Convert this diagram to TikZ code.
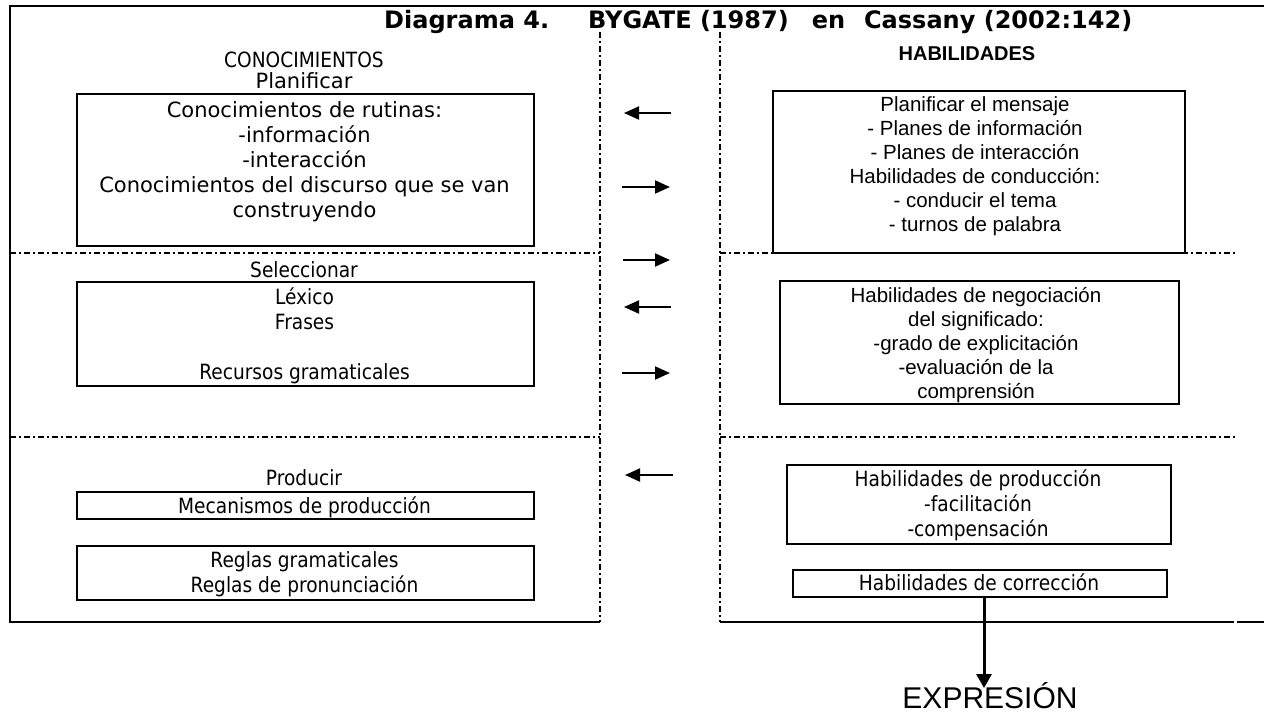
\documentclass[tikz,border=0pt]{standalone}
\usepackage{fontspec}
\usetikzlibrary{arrows.meta}
\newfontfamily\tahfont[FakeStretch=0.885]{DejaVu Sans}
\newfontfamily\verfont{DejaVu Sans}
\newfontfamily\arifont{Liberation Sans}
\newfontfamily\headfont{DejaVu Sans}
\begin{document}
\begin{tikzpicture}[x=1pt,y=-1pt,
  ltxt/.style={font=\tahfont\fontsize{21}{25}\selectfont, align=center, inner sep=0pt},
  wtxt/.style={font=\verfont\fontsize{21}{25}\selectfont, align=center, inner sep=0pt},
  rtxt/.style={font=\arifont\fontsize{20.5}{24}\selectfont, align=center, inner sep=0pt},
  box/.style={draw, line width=2.4pt, inner sep=0pt},
  frame/.style={line width=2.4pt},
  dashdot/.style={line width=1.8pt, dash pattern=on 6pt off 3pt on 2pt off 3pt},
  arr/.style={line width=2pt, -{Triangle[length=15pt,width=13pt]}},
  darr/.style={line width=3pt, -{Triangle[length=14pt,width=15pt]}}
]
% page
\fill[white] (0,0) rectangle (1264,713);
\useasboundingbox (0,0) rectangle (1264,713);

% title
\node[anchor=base west, font=\headfont\bfseries\fontsize{24}{28}\selectfont, inner sep=0pt] (title) at (384,28)
  {Diagrama 4.\hspace{39pt}BYGATE (1987)\hspace{23pt}en\hspace{19pt}Cassany (2002:142)};

% outer frame and separators
\draw[frame] (1264,6) -- (10,6) -- (10,622) -- (600,622);
\draw[frame] (720,622) -- (1234,622);
\draw[frame] (1237,622) -- (1264,622);
\draw[dashdot] (600,32) -- (600,622);
\draw[dashdot] (720,32) -- (720,622);
\draw[dashdot] (10,253) -- (600,253);
\draw[dashdot] (720,253) -- (1236,253);
\draw[dashdot] (10,437) -- (600,437);
\draw[dashdot] (720,437) -- (1236,437);

% left column: knowledge
\node[ltxt, anchor=base] (conoc) at (304,67) {CONOCIMIENTOS};
\node[wtxt, anchor=base] (planif) at (304,88) {Planificar};
\node[box, anchor=north west, minimum width=457pt, minimum height=152pt] (L1) at (76,93) {};
\node[wtxt, anchor=north] (L1t) at (304.5,99.5)
  {\strut Conocimientos de rutinas:\\-información\\-interacción\\Conocimientos del discurso que se van\\construyendo};

\node[ltxt, anchor=base] (selec) at (304,277) {Seleccionar};
\node[box, anchor=north west, minimum width=457pt, minimum height=104pt] (L2) at (76,281) {};
\node[ltxt, anchor=north] (L2t) at (304.5,286.5)
  {\strut Léxico\\Frases\\\mbox{}\\Recursos gramaticales};

\node[ltxt, anchor=base] (prod) at (304,485) {Producir};
\node[box, anchor=north west, minimum width=457pt, minimum height=27pt] (L3) at (76,491) {};
\node[ltxt, anchor=base] (L3t) at (304.5,513) {Mecanismos de producción};
\node[box, anchor=north west, minimum width=457pt, minimum height=54pt] (L4) at (76,545) {};
\node[ltxt, anchor=north] (L4t) at (304.5,549.5)
  {\strut Reglas gramaticales\\Reglas de pronunciación};

% right column: skills
\node[font=\arifont\bfseries\fontsize{20}{24}\selectfont, anchor=base, inner sep=0pt] (habil) at (967,60) {HABILIDADES};
\node[box, anchor=north west, minimum width=412pt, minimum height=162pt] (R1) at (772,90) {};
\node[rtxt, anchor=north] (R1t) at (975,94.2)
  {\strut Planificar el mensaje\\- Planes de información\\- Planes de interacción\\Habilidades de conducción:\\- conducir el tema\\- turnos de palabra};

\node[box, anchor=north west, minimum width=399pt, minimum height=123pt] (R2) at (779,280) {};
\node[rtxt, anchor=north] (R2t) at (976,285.2)
  {\strut Habilidades de negociación\\del significado:\\-grado de explicitación\\-evaluación de la\\comprensión};

\node[box, anchor=north west, minimum width=384pt, minimum height=79pt] (R3) at (786,464) {};
\node[ltxt, anchor=north] (R3t) at (978,468.5)
  {\strut Habilidades de producción\\-facilitación\\-compensación};

\node[box, anchor=north west, minimum width=374pt, minimum height=27pt] (R4) at (792,569) {};
\node[ltxt, anchor=base] (R4t) at (979,590) {Habilidades de corrección};

% output
\node[font=\arifont\fontsize{30}{34}\selectfont, anchor=base, inner sep=0pt] (expr) at (990,708) {EXPRESIÓN};
\coordinate (tip) at (984,688);
\draw[darr] (R4.south -| tip) -- (tip);

% exchange arrows between the columns
\foreach \n/\ya/\xa/\xb in {a/113/671/624, b/187/622/670, c/260/623/670, d/307/671/624, e/373/622/670, f/475/673/625}{
  \coordinate (\n s) at (\xa,\ya);
  \coordinate (\n e) at (\xb,\ya);
  \draw[arr] (\n s) -- (\n e);
}
\end{tikzpicture}
\end{document}
